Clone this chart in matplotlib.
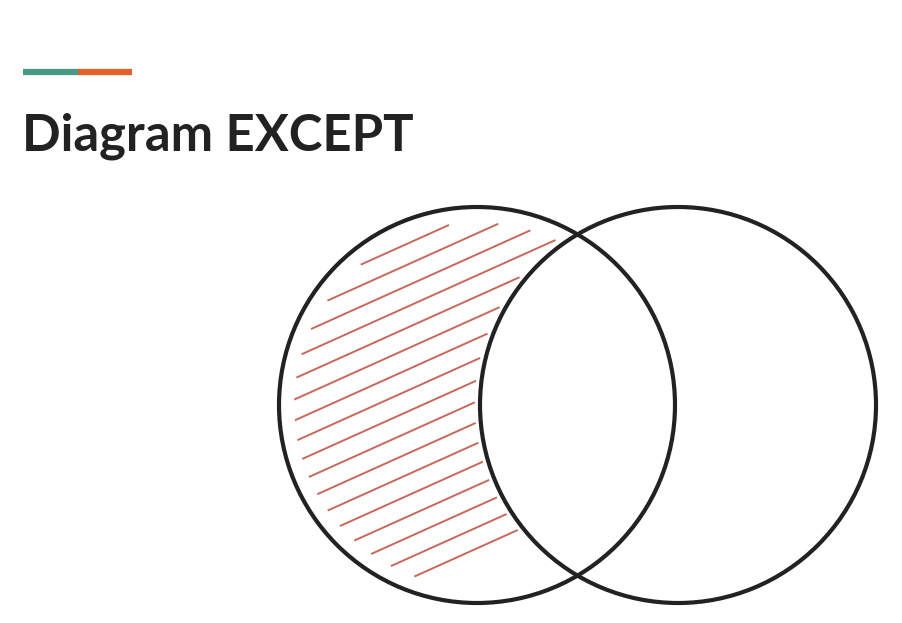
import numpy as np
import matplotlib
matplotlib.use("Agg")
import matplotlib.pyplot as plt
from matplotlib.patches import Circle

title = "Diagram EXCEPT"
set_a = {"cx": 477, "cy": 405, "r": 198}
set_b = {"cx": 678, "cy": 405, "r": 198}
shade_color = "#c7685a"
hatch_offsets = list(range(250, 640, 21))  # intercepts of hatch strokes

fig = plt.figure(figsize=(9.03, 6.23), dpi=100)
ax = fig.add_axes([0, 0, 1, 1])
ax.set_xlim(0, 903); ax.set_ylim(623, 0); ax.set_aspect("equal"); ax.axis("off")

ax.plot([23, 78], [72, 72], color="#4a9a8a", lw=4.5, solid_capstyle="butt")
ax.plot([78, 132], [72, 72], color="#e0622a", lw=4.5, solid_capstyle="butt")
ax.text(22, 150, title, fontsize=36.5, fontweight="bold", family="Lato", color="#222222")

slope = -0.45
for y0 in hatch_offsets:
    xs = np.linspace(270, 700, 2000)
    ys = y0 + slope * (xs - 300)
    inA = (xs - set_a["cx"])**2 + (ys - set_a["cy"])**2 < (set_a["r"] - 16)**2
    inB = (xs - set_b["cx"])**2 + (ys - set_b["cy"])**2 < (set_b["r"] + 6)**2
    m = inA & ~inB
    if m.sum() < 20:
        continue
    idx = np.where(m)[0]
    runs = np.split(idx, np.where(np.diff(idx) > 1)[0] + 1)
    for r in runs:
        if len(r) > 20:
            ax.plot(xs[r], ys[r], color=shade_color, lw=1.4)

for c in (set_a, set_b):
    ax.add_patch(Circle((c["cx"], c["cy"]), c["r"], fill=False, ec="#222222", lw=3))

fig.savefig("out.png", dpi=100)
